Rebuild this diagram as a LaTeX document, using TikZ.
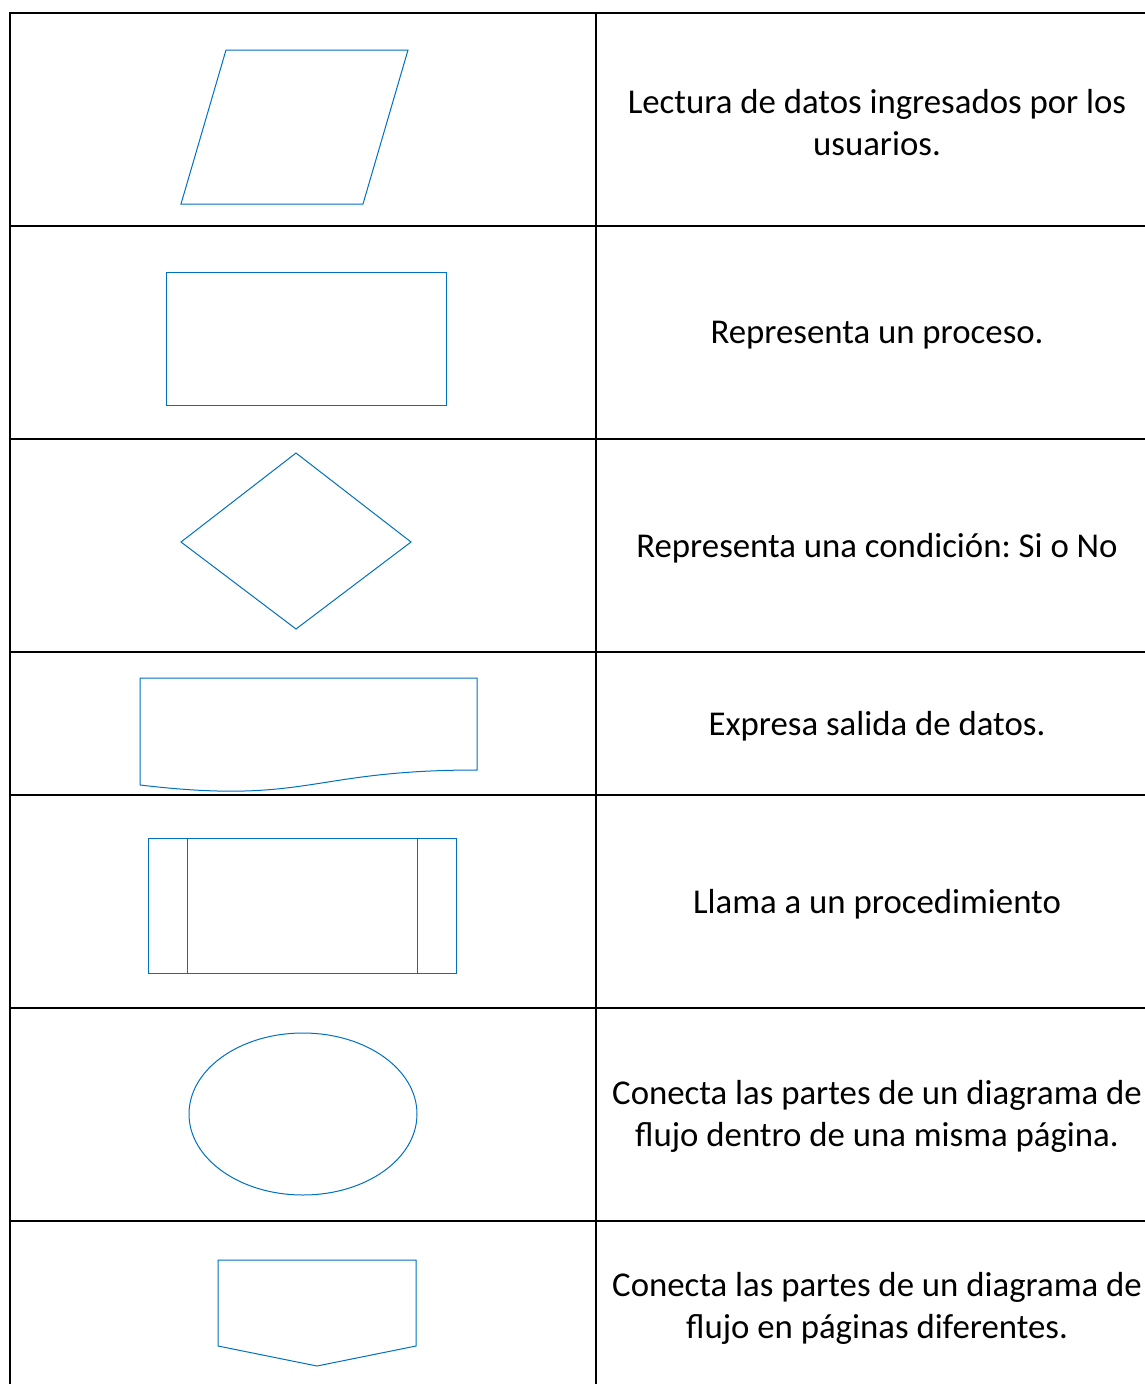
\documentclass[tikz,border=0pt]{standalone}
\usepackage{fontspec}
\setmainfont{Carlito}
\frenchspacing
\definecolor{shapeblue}{RGB}{0,112,192}
\begin{document}
\begin{tikzpicture}[x=1pt,y=-1pt,
  gridline/.style={black,line width=2.2pt},
  sym/.style={shapeblue,line width=1pt,line join=miter},
  desc/.style={align=center,font=\fontsize{34.8}{42}\selectfont,inner sep=0pt}]
\useasboundingbox (0,0) rectangle (1145,1384);
% table
\draw[gridline] (1160,13) -- (10,13) -- (10,1400);
\draw[gridline] (596,13) -- (596,1400);
\foreach \y in {226,439,652,795,1008,1221}
  \draw[gridline] (10,\y) -- (1160,\y);
% symbols
\draw[sym] (226,50) -- (408,50) -- (363,204) -- (181,204) -- cycle;
\draw[sym] (166,272) rectangle (446,405);
\draw[sym] (296,453) -- (411,542) -- (296,629) -- (181,542) -- cycle;
\draw[sym] (140,678) -- (477,678) -- (477,770)
  .. controls (308.5,770) and (308.5,805) .. (140,785) -- cycle;
\draw[sym] (148,838) rectangle (456,973);
\draw[sym] (187,838) -- (187,973);
\draw[sym] (417,838) -- (417,973);
\draw[sym] (303,1114) ellipse [x radius=114,y radius=81];
\draw[sym] (218,1260) -- (416,1260) -- (416,1346) -- (317,1366) -- (218,1346) -- cycle;
% texts
\node[desc] (t1) at (877,122.5) {Lectura de datos ingresados por los\\usuarios.};
\node[desc] (t2) at (877,335.5) {Representa un proceso.};
\node[desc] (t3) at (877,548.5) {Representa una condición: Si o No};
\node[desc] (t4) at (877,726.5) {Expresa salida de datos.};
\node[desc] (t5) at (877,904.5) {Llama a un procedimiento};
\node[desc] (t6) at (877,1116.5) {Conecta las partes de un diagrama de\\flujo dentro de una misma página.};
\node[desc] (t7) at (877,1308.5) {Conecta las partes de un diagrama de\\flujo en páginas diferentes.};
\end{tikzpicture}
\end{document}
